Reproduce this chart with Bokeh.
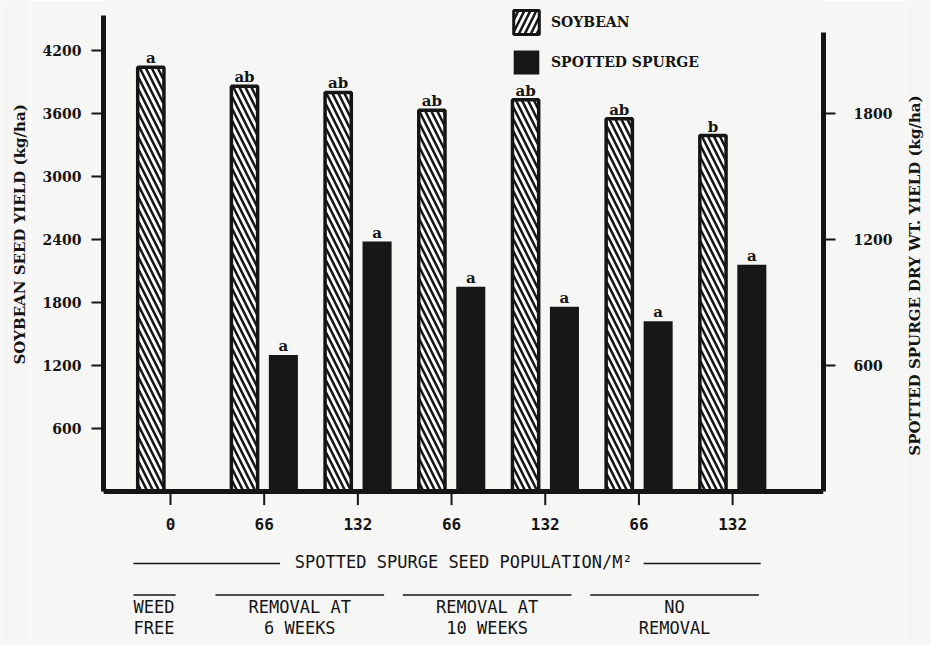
import math
from bokeh.plotting import figure
from bokeh.layouts import row
from bokeh.models import (ColumnDataSource, LinearAxis, Range1d, FixedTicker, Span,
                          Legend, LegendItem)
from bokeh.core.properties import value
from bokeh.embed import file_html
from bokeh.resources import INLINE

# ---------------- data ----------------
populations = ["0", "66", "132", "66", "132", "66", "132"]
soybean_yield = [4040, 3860, 3800, 3630, 3730, 3550, 3390]
soybean_letters = ["a", "ab", "ab", "ab", "ab", "ab", "b"]
spurge_groups = [1, 2, 3, 4, 5, 6]
spurge_yield = [650, 1190, 975, 880, 810, 1080]
spurge_letters = ["a", "a", "a", "a", "a", "a"]
left_ticks = [600, 1200, 1800, 2400, 3000, 3600, 4200]
right_ticks = [600, 1200, 1800]
treatment_line1 = ["WEED", "REMOVAL AT", "REMOVAL AT", "NO"]
treatment_line2 = ["FREE", "6 WEEKS", "10 WEEKS", "REMOVAL"]
treatment_groups = [[0], [1, 2], [3, 4], [5, 6]]
population_title = "SPOTTED SPURGE SEED POPULATION/M\u00b2"
left_title = "SOYBEAN SEED YIELD (kg/ha)"
right_title = "SPOTTED SPURGE DRY WT. YIELD (kg/ha)"

# ---------------- style / layout ----------------
INK = "#151515"
PAPER = "#f6f6f4"
SERIF = value("DejaVu Serif")
MONO = value("DejaVu Sans Mono")
SOY_OFF, SPURGE_OFF = -0.21, 0.205
TICK_LABEL_Y = -314
POP_Y = -676
GROUP_LINE_Y = -985
LINE1_Y = -1105
LINE2_Y = -1300
LEFT_TITLE_Y = 2448
RIGHT_TITLE_Y = 2057

groups = list(range(len(populations)))
y_main = Range1d(-1467, 4676)

p = figure(width=875, height=645, x_range=Range1d(-0.715, 6.97), y_range=y_main,
           x_axis_type=None, y_axis_type=None, output_backend="svg", toolbar_location=None,
           min_border_left=73, min_border_right=82, min_border_top=0, min_border_bottom=0)
p.extra_y_ranges = {"spurge": Range1d(-733.5, 2338)}
p.outline_line_color = None
p.background_fill_color = PAPER
p.border_fill_color = PAPER

# bars
soy_src = ColumnDataSource(dict(x=[g + SOY_OFF for g in groups], top=soybean_yield,
                                label=soybean_letters))
sp_src = ColumnDataSource(dict(x=[g + SPURGE_OFF for g in spurge_groups], top=spurge_yield,
                               label=spurge_letters))

p.vbar(x="x", top="top", bottom=0, width=0.28, source=soy_src, fill_color="#fbfbfb",
       line_color=INK, line_width=3.5, hatch_pattern="\\", hatch_color=INK,
       hatch_weight=2.5, hatch_scale=12)
p.vbar(x="x", top="top", bottom=0, width=0.31, source=sp_src, y_range_name="spurge",
       fill_color="#171717", line_color=None)

p.text(x="x", y="top", text="label", source=soy_src, text_align="center",
       text_baseline="alphabetic", y_offset=-9, text_font=SERIF, text_font_style="bold",
       text_font_size="15px", text_color=INK)
p.text(x="x", y="top", text="label", source=sp_src, y_range_name="spurge", text_align="center",
       text_baseline="alphabetic", y_offset=-9, text_font=SERIF, text_font_style="bold",
       text_font_size="15px", text_color=INK)

# baseline and category ticks
p.add_layout(Span(location=0, dimension="width", line_color=INK, line_width=5))
p.segment(x0=groups, y0=0, x1=groups, y1=-130, line_color=INK, line_width=2)
p.text(x=groups, y=TICK_LABEL_Y, text=populations, text_align="center", text_baseline="middle",
       text_font=MONO, text_font_style="bold", text_font_size="16px", text_color=INK)

# population title with side rules
p.text(x=[3.13], y=[POP_Y], text=[population_title], text_align="center", text_baseline="middle",
       text_font=MONO, text_font_size="17px", text_color=INK)
p.segment(x0=[-0.395, 5.05], x1=[1.17, 6.30], y0=POP_Y - 10, y1=POP_Y - 10,
          line_color=INK, line_width=1.5)

# treatment groups
x0s, x1s, cx = [], [], []
for g in treatment_groups:
    if len(g) == 1:
        x0s.append(g[0] - 0.395); x1s.append(g[0] + 0.055)
        cx.append(g[0] - 0.395)
    else:
        a, b = g[0] - 0.52, g[-1] + 0.28
        x0s.append(a); x1s.append(b); cx.append((a + b) / 2)
p.segment(x0=x0s, x1=x1s, y0=GROUP_LINE_Y, y1=GROUP_LINE_Y, line_color=INK, line_width=1.5)
p.text(x=cx[:1], y=LINE1_Y, text=treatment_line1[:1], text_align="left", text_baseline="middle",
       text_font=MONO, text_font_size="17px", text_color=INK)
p.text(x=cx[:1], y=LINE2_Y, text=treatment_line2[:1], text_align="left", text_baseline="middle",
       text_font=MONO, text_font_size="17px", text_color=INK)
p.text(x=cx[1:], y=LINE1_Y, text=treatment_line1[1:], text_align="center", text_baseline="middle",
       text_font=MONO, text_font_size="17px", text_color=INK)
p.text(x=cx[1:], y=LINE2_Y, text=treatment_line2[1:], text_align="center", text_baseline="middle",
       text_font=MONO, text_font_size="17px", text_color=INK)

# axes
def style_axis(ax, standoff):
    ax.axis_line_color = INK
    ax.axis_line_width = 5
    ax.major_tick_line_color = INK
    ax.major_tick_line_width = 2
    ax.major_tick_out = 12
    ax.major_tick_in = 0
    ax.minor_tick_line_color = None
    ax.major_label_text_font = "DejaVu Serif"
    ax.major_label_text_font_style = "bold"
    ax.major_label_text_font_size = "14px"
    ax.major_label_text_color = INK
    ax.major_label_standoff = standoff

yl = LinearAxis(ticker=FixedTicker(ticks=left_ticks), bounds=(0, 4533))
style_axis(yl, 10)
p.add_layout(yl, "left")

yr = LinearAxis(y_range_name="spurge", ticker=FixedTicker(ticks=right_ticks), bounds=(0, 2186))
style_axis(yr, 18)
p.add_layout(yr, "right")

# legend (soybean key drawn with forward hatch as in the original); keys sit off-range
leg_soy = p.vbar(x=[-5], top=[0], width=0.3, fill_color="#fbfbfb", line_color=INK,
                 line_width=3, hatch_pattern="/", hatch_color=INK, hatch_weight=2.5,
                 hatch_scale=12)
leg_sp = p.vbar(x=[-5], top=[0], width=0.3, fill_color="#171717", line_color=None)
legend = Legend(items=[LegendItem(label="SOYBEAN", renderers=[leg_soy]),
                       LegendItem(label="SPOTTED SPURGE", renderers=[leg_sp])],
                location=(407, 568), glyph_width=32, glyph_height=30, spacing=10,
                padding=0, margin=0, label_standoff=9, border_line_color=None,
                background_fill_alpha=0, label_text_font="DejaVu Serif",
                label_text_font_style="bold", label_text_font_size="14px",
                label_text_color=INK)
p.add_layout(legend)


# axis titles in narrow side panels (both read bottom-to-top, as in the original)
def title_panel(width, text, ty, tx):
    f = figure(width=width, height=645, x_range=Range1d(0, width), y_range=y_main,
               x_axis_type=None, y_axis_type=None, output_backend="svg",
               toolbar_location=None, min_border=0)
    f.outline_line_color = None
    f.background_fill_color = PAPER
    f.border_fill_color = PAPER
    f.text(x=[tx], y=[ty], text=[text], angle=math.pi / 2, text_align="center",
           text_baseline="middle", text_font=SERIF, text_font_style="bold",
           text_font_size="15px", text_color=INK)
    return f


left_panel = title_panel(30, left_title, LEFT_TITLE_Y, 19)
right_panel = title_panel(25, right_title, RIGHT_TITLE_Y, 9)

layout = row(left_panel, p, right_panel, spacing=0)
open("out.html", "w").write(file_html(layout, INLINE))
